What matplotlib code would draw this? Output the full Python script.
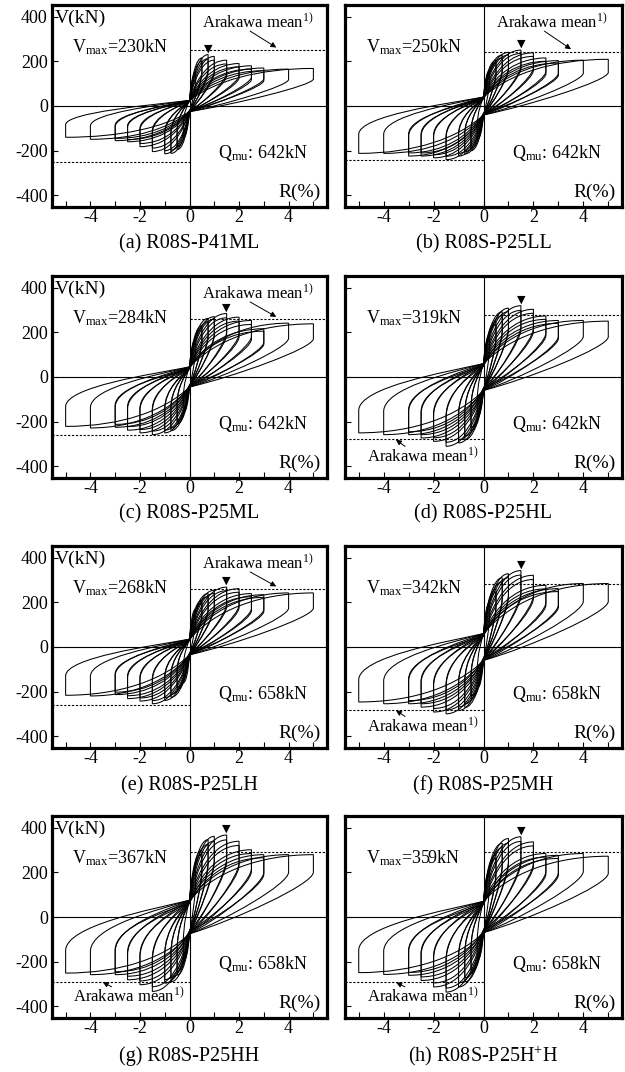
import numpy as np
import matplotlib
matplotlib.use('Agg')
import matplotlib.pyplot as plt
from matplotlib.path import Path
from matplotlib.patches import PathPatch

plt.rcParams['font.family'] = ['Liberation Serif', 'DejaVu Serif']
plt.rcParams['mathtext.fontset'] = 'custom'
plt.rcParams['mathtext.rm'] = 'Liberation Serif'
plt.rcParams['mathtext.it'] = 'Liberation Serif:italic'
plt.rcParams['font.size'] = 13

# drift amplitudes (%) of the first and the second cycles
R1 = [0.25, 0.5, 0.75, 1.0, 1.5, 2.0, 2.5, 3.0, 4.0, 5.0]
R2 = [0.5, 0.75, 1.0, 1.5, 2.0, 2.5, 3.0]

# peak shear (kN) per cycle
pos1_a = [150, 215, 230, 222, 205, 190, 180, 170, 165, 168]
neg1_a = [-140, -195, -212, -214, -204, -182, -160, -155, -149, -140]
pos2_a = [200, 212, 205, 188, 175, 165, 158]
neg2_a = [-182, -198, -200, -188, -168, -150, -145]

pos1_b = [160, 205, 228, 240, 250, 238, 215, 203, 205, 209]
neg1_b = [-150, -200, -215, -224, -240, -232, -224, -224, -212, -212]
pos2_b = [195, 215, 228, 235, 222, 200, 192]
neg2_b = [-190, -205, -212, -225, -218, -210, -210]

pos1_c = [170, 230, 262, 270, 284, 268, 253, 216, 241, 238]
neg1_c = [-160, -210, -240, -250, -258, -250, -238, -225, -228, -221]
pos2_c = [218, 248, 258, 265, 250, 235, 205]
neg2_c = [-198, -228, -238, -242, -235, -222, -212]

pos1_d = [190, 250, 292, 308, 319, 303, 273, 253, 253, 250]
neg1_d = [-180, -240, -280, -295, -310, -288, -273, -258, -258, -250]
pos2_d = [235, 275, 292, 298, 285, 258, 240]
neg2_d = [-225, -265, -280, -292, -272, -258, -245]

pos1_e = [170, 209, 239, 254, 268, 261, 239, 234, 242, 242]
neg1_e = [-160, -190, -225, -239, -254, -242, -231, -213, -219, -216]
pos2_e = [198, 226, 240, 252, 245, 225, 222]
neg2_e = [-180, -212, -226, -240, -228, -218, -202]

pos1_f = [200, 260, 310, 328, 342, 321, 276, 261, 284, 284]
neg1_f = [-185, -230, -270, -284, -299, -291, -269, -254, -254, -246]
pos2_f = [245, 292, 310, 322, 302, 260, 248]
neg2_f = [-218, -255, -268, -282, -275, -254, -240]

pos1_g = [210, 300, 346, 361, 367, 339, 301, 279, 279, 279]
neg1_g = [-200, -260, -290, -296, -333, -303, -281, -258, -258, -251]
pos2_g = [282, 325, 340, 345, 320, 284, 265]
neg2_g = [-245, -272, -280, -312, -286, -265, -245]

pos1_h = [205, 280, 330, 351, 359, 336, 284, 276, 284, 272]
neg1_h = [-195, -250, -290, -313, -336, -313, -284, -261, -257, -249]
pos2_h = [262, 310, 330, 338, 318, 268, 262]
neg2_h = [-235, -272, -295, -318, -295, -268, -248]

captions = ['(a) R08S-P41ML', '(b) R08S-P25LL', '(c) R08S-P25ML', '(d) R08S-P25HL',
            '(e) R08S-P25LH', '(f) R08S-P25MH', '(g) R08S-P25HH', '(h) R08S-P25H$^{+}$H']
vmax = [230, 250, 284, 319, 268, 342, 367, 359]
r_vmax = [0.75, 1.5, 1.5, 1.5, 1.5, 1.5, 1.5, 1.5]
qmu = [642, 642, 642, 642, 658, 658, 658, 658]
arakawa = [250, 242, 258, 278, 260, 281, 290, 292]
arakawa_low = [False, False, False, True, False, True, True, True]
pinch = [25, 40, 45, 60, 35, 60, 75, 70]

pos1 = [pos1_a, pos1_b, pos1_c, pos1_d, pos1_e, pos1_f, pos1_g, pos1_h]
neg1 = [neg1_a, neg1_b, neg1_c, neg1_d, neg1_e, neg1_f, neg1_g, neg1_h]
pos2 = [pos2_a, pos2_b, pos2_c, pos2_d, pos2_e, pos2_f, pos2_g, pos2_h]
neg2 = [neg2_a, neg2_b, neg2_c, neg2_d, neg2_e, neg2_f, neg2_g, neg2_h]

XL, XR = -5.55, 5.55
YL, YH = -452, 452


def half(R, v, p, a, r, q):
    # loading from (0, p) to the peak (R, v), unloading to (R, a*v),
    # then back through the pinch to (0, -p)
    va = a * v
    return [(0.2 * R, p + 0.6 * (v - p)), (0.55 * R, v), (R, v),
            (R, va),
            (R, va - r * (va + p)), (q * R, -p + q * (va + p) * 0.6), (0, -p)]


def loop(ax, R, vp, vn, p):
    verts = [(0, p)] + half(R, vp, p, 0.72, 0.2, 0.35) + half(-R, vn, -p, 0.6, 0.5, 0.3)
    c4, ln = Path.CURVE4, Path.LINETO
    codes = [Path.MOVETO] + [c4, c4, c4, ln, c4, c4, c4] * 2
    ax.add_patch(PathPatch(Path(verts, codes), fill=False, lw=0.75, ec='k'))


W, H = 625, 1072
fig = plt.figure(figsize=(W / 100, H / 100), dpi=100)
lefts, widths = [52, 345], [275, 277]
tops = [5, 276, 546, 816]
cap_y = [244, 514, 786, 1056]
AH = 202

for i in range(8):
    row, col = divmod(i, 2)
    ax = fig.add_axes([lefts[col] / W, 1 - (tops[row] + AH) / H, widths[col] / W, AH / H])
    ax.set_xlim(XL, XR)
    ax.set_ylim(YL, YH)

    for R, vp, vn in zip(R1, pos1[i], neg1[i]):
        loop(ax, R, vp, vn, pinch[i])
    for R, vp, vn in zip(R2, pos2[i], neg2[i]):
        loop(ax, R, vp, vn, pinch[i] * 0.85)

    ax.axhline(0, color='k', lw=0.8)
    ax.axvline(0, color='k', lw=0.8)
    ax.hlines(arakawa[i], 0, XR, colors='k', lw=0.8, linestyles=(0, (2, 1.5)))
    ax.hlines(-arakawa[i], XL, 0, colors='k', lw=0.8, linestyles=(0, (2, 1.5)))

    ax.annotate('▼', (r_vmax[i], vmax[i]), xytext=(0, 1), textcoords='offset points',
                ha='center', va='bottom', fontsize=8, family='DejaVu Sans')

    ax.text(-2.8, 262, r'V$_{\rm max}$=%dkN' % vmax[i], ha='center', va='center', fontsize=13)
    ax.text(2.95, -210, r'Q$_{\rm mu}$: %dkN' % qmu[i], ha='center', va='center', fontsize=13)
    ax.text(5.3, -385, 'R(%)', ha='right', va='center', fontsize=14)
    if col == 0:
        ax.text(-5.42, 392, 'V(kN)', ha='left', va='center', fontsize=14)

    if arakawa_low[i]:
        ax.text(-2.45, -352, r'Arakawa mean$^{1)}$', ha='center', va='center', fontsize=12)
        ax.annotate('', xy=(-3.6, -arakawa[i] + 5), xytext=(-3.05, -318),
                    arrowprops=dict(arrowstyle='-|>', lw=0.7, color='k', mutation_scale=8))
    else:
        ax.text(2.75, 375, r'Arakawa mean$^{1)}$', ha='center', va='center', fontsize=12)
        ax.annotate('', xy=(3.6, arakawa[i] + 5), xytext=(2.35, 342),
                    arrowprops=dict(arrowstyle='-|>', lw=0.7, color='k', mutation_scale=8))

    ax.set_xticks(range(-5, 6))
    ax.set_xticklabels([str(v) if v % 2 == 0 else '' for v in range(-5, 6)])
    ax.set_yticks([-400, -200, 0, 200, 400])
    if col == 0:
        ax.set_yticklabels(['-400', '-200', '0', '200', '400'])
    else:
        ax.set_yticklabels([])
    ax.tick_params(direction='in', length=4, width=0.8, labelsize=13)
    ax.tick_params(axis='x', pad=1.5)
    ax.tick_params(axis='y', pad=3)
    for s in ax.spines.values():
        s.set_linewidth(2.3)

    cx = (lefts[col] + widths[col] / 2) / W
    fig.text(cx, 1 - cap_y[row] / H, captions[i], ha='center', va='center', fontsize=14.5)

fig.savefig('out.png', dpi=100)
